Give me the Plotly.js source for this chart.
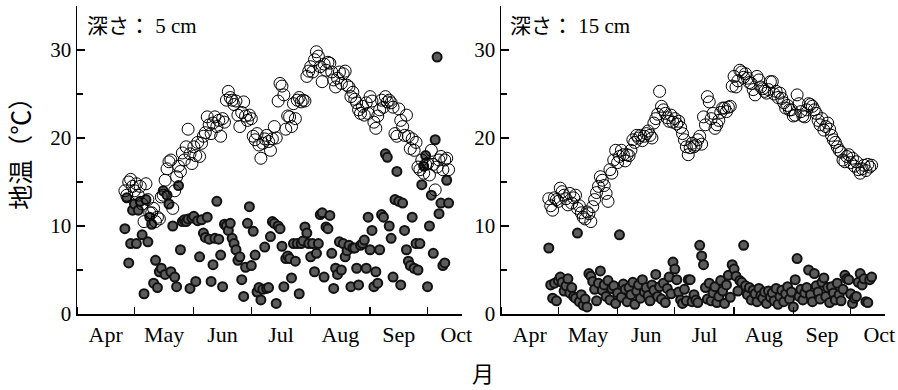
<!DOCTYPE html>
<html>
<head>
<meta charset="utf-8">
<script src="https://cdn.plot.ly/plotly-3.0.1.min.js"></script>
<style>html,body{margin:0;padding:0;background:#fff}#chart{width:898px;height:390px}</style>
</head>
<body>
<div id="chart"></div>
<script>
// Daily data, first day = 26 Apr, 170 days (to 12 Oct)
const startDate = '2010-04-26';
const monthLabels = ['Apr','May','Jun','Jul','Aug','Sep','Oct'];
const panelTitles = ['深さ：\u00a05 cm', '深さ：\u00a015 cm'];

// depth 5 cm, open circles
const open5 = [
  14, 13.5, 15, 15.3, 14.5, 14, 14.8, 13.5, 14.5,
  12.5, 10.5, 14.8, 13, 11.5,
  11.5, 12, 10.5, 11, 10.8, 13.3,
  13.5, 15.2, 16.5, 17.3, 17.5, 12, 14,
  15.6, 16.8, 16.2, 18.3, 17.5, 19, 21, 18.2, 17.1,
  19, 18, 19.5, 17.9, 19.4, 20.2, 20.6, 22.4, 21.5, 20.5,
  21.7, 22.4, 21.3, 22, 20.2, 22.2, 21.8, 24.3, 25.3, 24.6,
  24.3, 23.8, 24.2, 22.6, 21.3, 22.9, 24.1, 22.5, 22, 22.6,
  22.2, 20.2, 19.8, 20.5, 19.2, 17.7, 19.4, 19.9, 20.3, 19.6,
  18.6, 19.9, 21.3, 20, 24.2, 26.2, 25.9, 24.9, 21, 22.5,
  22.4, 21.3, 23.9, 22.2, 24.3, 24.6, 24.1, 24.3, 24.2, 27, 27.6,
  28.1, 27.5, 28.9, 29.8, 29.3, 28.1, 26.4, 28.4, 27.7, 28.6,
  28.5, 27.5, 26.6, 25.8, 26.8, 27.5, 26.2, 27.3, 27.6, 26,
  25.8, 24.7, 25.2, 24.4, 24, 23.2, 22.8, 23.6, 22.6, 24, 22.8,
  24.7, 24.2, 21.8, 21.1, 22.5, 23.2, 24.3, 23.5, 24.7, 24.1,
  24.3, 24, 23.5, 20.5, 20.2, 23.3, 22, 21.3, 20.3, 22.6,
  20.2, 18.8, 19.9, 18.6, 19.5, 16.7, 16.4, 17.5, 16, 17,
  17.1, 15.8, 18.6, 17, 14.1, 16.7, 17.5, 17.9, 16.4, 17.5, 17.7, 16.4
];

// depth 5 cm, filled circles
const fill5 = [
  9.7, 13.2, 5.8, 8.0, 11.8, 12.5, 8.0, 11.8, 12.8, 9.0,
  2.3, 13.0, 8.2, 11.0, 10.2, 3.5, 6.1, 3.0, 4.8, 5.2,
  14.0, 4.5, 13.5, 12.5, 4.8, 10.0, 4.2, 3.1, 14.6, 7.3,
  10.5, 10.7, 10.5, 10.8, 2.9, 10.9, 11.1, 3.7, 10.6, 6.5,
  10.7, 9.2, 8.7, 11.0, 8.5, 3.7, 5.6, 8.6, 12.8, 8.5,
  6.7, 3.1, 10.2, 10.0, 9.5, 10.3, 8.6, 8.0, 7.3, 6.1,
  6.5, 3.9, 2.0, 5.3, 10.3, 12.2, 5.5, 9.4, 6.7, 2.5,
  3.0, 1.6, 2.8, 7.6, 2.9, 3.0, 8.8, 10.5, 10.3, 1.2,
  10.0, 9.7, 7.7, 3.1, 6.3, 6.6, 6.3, 4.1, 8.0, 6.0,
  8.0, 2.3, 8.0, 8.3, 9.9, 9.2, 8.0, 6.5, 8.0, 4.8,
  6.9, 8.0, 11.3, 11.5, 4.2, 9.9, 9.7, 11.2, 6.9, 2.9,
  5.2, 4.5, 8.2, 5.0, 8.0, 6.5, 7.2, 7.8, 3.1, 7.5,
  7.5, 5.2, 3.3, 7.8, 8.0, 8.4, 5.2, 11.0, 7.3, 9.5,
  3.1, 4.8, 3.5, 7.3, 11.3, 11.0, 18.2, 17.8, 10.0, 8.6,
  4.2, 13.0, 16.2, 12.8, 3.3, 12.6, 9.5, 7.3, 6.0, 5.5,
  11.0, 5.2, 8.0, 5.0, 8.0, 14.7, 16.8, 18.0, 3.1, 10.0,
  13.5, 6.9, 19.8, 29.2, 11.4, 12.6, 5.5, 5.8, 15.2, 12.6
];

// depth 15 cm, open circles
const open15 = [
  13.1, 12.3, 11.8, 13.2, 13.0, 12.8, 14.3, 13.9, 13.5, 13.1,
  12.4, 13.7, 12.6, 13.2, 13.5, 12.0, 12.3, 11.5, 11.0, 10.8,
  11.6, 11.4, 10.5, 12.2, 13.0, 13.8, 14.5, 15.6, 15.2, 14.6,
  13.7, 12.8, 16.4, 16.0, 17.5, 18.6, 17.2, 17.9, 18.6, 18.1,
  17.4, 18.1, 18.0, 18.6, 19.8, 19.5, 20.3, 20.0, 20.3, 19.7,
  20.2, 20.5, 20.8, 20.3, 20.0, 21.7, 22.2, 22.7, 25.3, 23.6,
  23.2, 22.8, 22.3, 21.9, 22.6, 21.8, 22.2, 21.6, 21.9, 21.2,
  20.5, 19.8, 19.0, 18.1, 18.9, 19.4, 19.0, 19.2, 19.8, 20.2,
  19.3, 22.4, 21.5, 24.7, 24.1, 22.2, 22.8, 21.1, 21.5, 22.0,
  22.9, 23.4, 23.4, 23.0, 23.5, 23.6, 25.9, 27.0, 25.8, 26.5,
  27.7, 27.5, 26.9, 27.3, 26.8, 26.3, 26.2, 25.5, 24.9, 27.0,
  26.6, 25.8, 25.6, 25.3, 25.1, 25.5, 26.4, 26.4, 25.0, 25.3,
  24.6, 25.1, 24.5, 24.0, 23.4, 23.7, 23.2, 23.2, 22.5, 22.6,
  24.9, 23.9, 23.0, 22.5, 22.4, 23.2, 23.9, 23.8, 23.6, 23.2,
  22.8, 22.0, 21.5, 22.2, 20.9, 21.3, 21.7, 21.0, 20.3, 19.8,
  19.5, 19.0, 18.6, 18.4, 17.5, 17.3, 17.9, 18.1, 17.2, 17.7,
  16.8, 17.3, 16.4, 16.0, 16.5, 16.9, 16.3, 17.0, 16.7, 16.9
];

// depth 15 cm, filled circles
const fill15 = [
  7.5, 3.3, 1.8, 3.5, 1.5, 3.8, 4.2, 3.6, 2.6, 3.2,
  4.0, 2.4, 3.0, 2.0, 1.8, 9.2, 1.4, 2.2, 1.0, 1.7,
  0.8, 4.6, 4.3, 3.7, 2.8, 1.5, 3.5, 4.9, 2.7, 3.3,
  2.0, 3.8, 1.6, 2.9, 3.2, 1.2, 2.4, 9.0, 1.9, 3.4,
  2.8, 1.4, 3.0, 2.2, 3.6, 1.1, 2.6, 3.3, 1.8, 3.9,
  2.5, 3.0, 2.1, 1.5, 3.3, 2.7, 4.5, 2.0, 3.1, 1.7,
  3.5, 1.3, 2.9, 4.2, 2.3, 5.9, 5.1, 3.9, 2.5, 1.6,
  1.2, 2.8, 1.5, 3.9, 3.9, 1.4, 2.2, 1.6, 1.3, 7.8,
  6.6, 5.6, 3.0, 1.7, 3.5, 1.5, 2.4, 3.1, 1.3, 2.0,
  3.8, 2.6, 1.2, 3.3, 4.4, 1.9, 5.6, 5.1, 4.3, 2.6,
  3.8, 3.6, 7.8, 3.2, 2.2, 3.0, 1.6, 2.7, 2.3, 1.4,
  2.9, 2.1, 1.8, 2.5, 1.2, 2.6, 1.9, 2.4, 1.5, 2.9,
  1.1, 2.0, 2.7, 1.4, 2.3, 3.1, 1.7, 2.5, 0.8, 3.9,
  6.3, 2.0, 2.8, 1.6, 2.4, 3.0, 5.0, 2.2, 1.4, 4.6,
  3.2, 2.5, 1.7, 3.6, 4.1, 2.0, 3.0, 1.3, 3.1, 2.4,
  1.6, 3.5, 2.2, 1.5, 2.8, 4.4, 4.0, 3.9, 2.3, 1.2,
  1.8, 2.0, 3.6, 4.6, 3.3, 4.0, 1.4, 1.3, 3.9, 4.2
];

function dates(n) {
  const out = [];
  const d0 = new Date(startDate + 'T00:00:00Z');
  for (let i = 0; i < n; i++) {
    const d = new Date(d0.getTime() + i * 86400000);
    out.push(d.toISOString().slice(0, 10));
  }
  return out;
}

const openStyle = {symbol: 'circle-open', size: 12, color: '#000', line: {width: 1, color: '#000'}};
const fillStyle = {symbol: 'circle', size: 9, color: '#5c5c5c', line: {width: 2, color: '#111'}};

const traces = [
  {x: dates(fill5.length), y: fill5, xaxis: 'x', yaxis: 'y', mode: 'markers', type: 'scatter', marker: fillStyle, cliponaxis: false},
  {x: dates(open5.length), y: open5, xaxis: 'x', yaxis: 'y', mode: 'markers', type: 'scatter', marker: openStyle, cliponaxis: false},
  {x: dates(fill15.length), y: fill15, xaxis: 'x2', yaxis: 'y2', mode: 'markers', type: 'scatter', marker: fillStyle, cliponaxis: false},
  {x: dates(open15.length), y: open15, xaxis: 'x2', yaxis: 'y2', mode: 'markers', type: 'scatter', marker: openStyle, cliponaxis: false}
];

const serif = 'Liberation Serif, Times New Roman, serif';
const cjk = 'Liberation Serif, Noto Sans CJK JP, serif';

function xax(domain, anchor) {
  return {
    domain: domain, anchor: anchor, type: 'date',
    range: ['2010-04-01', '2010-10-19'],
    tick0: '2010-04-01', dtick: 'M1', tickformat: '%b', ticklabelmode: 'period',
    ticks: 'inside', ticklen: 7, tickwidth: 1.2, tickcolor: '#000',
    showline: true, linecolor: '#000', linewidth: 1.5,
    showgrid: false, zeroline: false,
    tickfont: {family: serif, size: 22, color: '#000'}
  };
}
function yax(domain, anchor) {
  return {
    domain: domain, anchor: anchor, range: [0, 35],
    tickvals: [0, 10, 20, 30], ticktext: ['0', '10', '20', '30'],
    ticks: 'inside', ticklen: 8, tickwidth: 1.2, tickcolor: '#000',
    minor: {tickvals: [5, 15, 25, 35], ticks: 'inside', ticklen: 6, tickwidth: 1.2, tickcolor: '#000'},
    showline: true, linecolor: '#000', linewidth: 1.5,
    showgrid: false, zeroline: false,
    tickfont: {family: serif, size: 21, color: '#000'}
  };
}

const layout = {
  width: 898, height: 390,
  margin: {l: 77, r: 13, t: 6, b: 76},
  paper_bgcolor: '#fff', plot_bgcolor: '#fff',
  showlegend: false,
  xaxis: xax([0, 0.4765], 'y'),
  yaxis: yax([0, 1], 'x'),
  xaxis2: xax([0.5248, 1], 'y2'),
  yaxis2: yax([0, 1], 'x2'),
  annotations: [
    {text: panelTitles[0], xref: 'paper', yref: 'paper', x: 0.0099, y: 0.935, xanchor: 'left', yanchor: 'middle', showarrow: false, font: {family: cjk, size: 21, color: '#000'}},
    {text: panelTitles[1], xref: 'paper', yref: 'paper', x: 0.5334, y: 0.935, xanchor: 'left', yanchor: 'middle', showarrow: false, font: {family: cjk, size: 21, color: '#000'}},
    {text: '地温（℃）', xref: 'paper', yref: 'paper', x: -0.068, y: 0.54, xanchor: 'center', yanchor: 'middle', textangle: -90, showarrow: false, font: {family: cjk, size: 25, color: '#000'}},
    {text: '月', xref: 'paper', yref: 'paper', x: 0.5025, y: -0.198, xanchor: 'center', yanchor: 'middle', showarrow: false, font: {family: cjk, size: 22, color: '#000'}}
  ]
};

Plotly.newPlot('chart', traces, layout, {staticPlot: true, displayModeBar: false});
</script>
</body>
</html>
